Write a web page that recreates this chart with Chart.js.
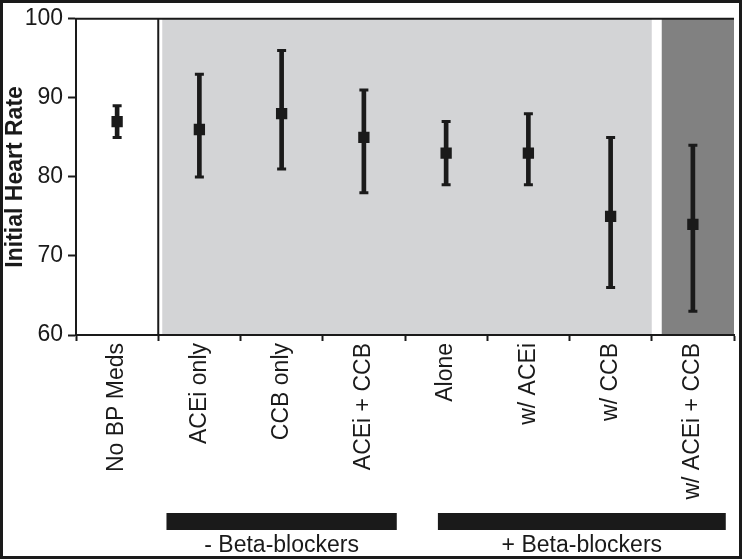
<!DOCTYPE html>
<html>
<head>
<meta charset="utf-8">
<script src="https://cdn.jsdelivr.net/npm/chart.js@4"></script>
<style>
  html, body { margin: 0; padding: 0; background: #fff; }
  #wrap { width: 742px; height: 559px; }
</style>
</head>
<body>
<div id="wrap"><canvas id="rateChart" width="742" height="559"></canvas></div>
<script>
// values
var categories = ['No BP Meds', 'ACEi only', 'CCB only', 'ACEi + CCB', 'Alone', 'w/ ACEi', 'w/ CCB', 'w/ ACEi + CCB'];
var meanRate = [87, 86, 88, 85, 83, 83, 75, 74];
var lowRate = [85, 80, 81, 78, 79, 79, 66, 63];
var highRate = [89, 93, 96, 91, 87, 88, 85, 84];
var yTicks = [60, 70, 80, 90, 100];
var groupLabels = ['- Beta-blockers', '+ Beta-blockers'];

var ink = '#1a1a1a';
var fontFamily = '"Liberation Sans", Arial, Helvetica, sans-serif';

var whiskers = [];
for (var i = 0; i < categories.length; i++) {
    whiskers.push([lowRate[i], highRate[i]]);
}

// shaded panels, divider, top line, group bars and frame
var decorPlugin = {
    id: 'decor',
    beforeDraw: function(chart) {
        var ctx = chart.ctx;
        var x = chart.scales.x;
        var area = chart.chartArea;
        var b1 = x.getPixelForValue(0.5);
        var b7 = x.getPixelForValue(6.5);
        ctx.save();
        ctx.fillStyle = '#fff';
        ctx.fillRect(0, 0, chart.width, chart.height);
        ctx.fillStyle = '#d3d4d6';
        ctx.fillRect(b1 + 4, area.top, b7 - (b1 + 4), area.bottom - area.top);
        ctx.fillStyle = '#818181';
        ctx.fillRect(b7 + 10, area.top, area.right - (b7 + 10), area.bottom - area.top);
        ctx.restore();
    },
    afterDraw: function(chart, args, opts) {
        var ctx = chart.ctx;
        var x = chart.scales.x;
        var area = chart.chartArea;
        var b1 = x.getPixelForValue(0.5);
        ctx.save();
        ctx.strokeStyle = ink;
        ctx.lineWidth = 2;
        ctx.beginPath();
        ctx.moveTo(b1, area.top);
        ctx.lineTo(b1, area.bottom);
        ctx.moveTo(area.left - 1, area.top);
        ctx.lineTo(area.right, area.top);
        ctx.stroke();

        ctx.fillStyle = ink;
        ctx.font = '23px ' + fontFamily;
        ctx.textAlign = 'center';
        ctx.textBaseline = 'alphabetic';
        for (var g = 0; g < groupLabels.length; g++) {
            var left = x.getPixelForValue(opts.starts[g]);
            var right = x.getPixelForValue(opts.ends[g]);
            ctx.fillRect(left, 513, right - left, 17);
            ctx.fillText(groupLabels[g], (left + right) / 2, 552);
        }

        ctx.lineWidth = 3;
        ctx.strokeRect(1.5, 1.5, chart.width - 3, chart.height - 3);
        ctx.restore();
    }
};

var chart = new Chart(document.getElementById('rateChart'), {
    type: 'bar',
    data: {
        labels: categories,
        datasets: [
            {
                type: 'line',
                label: 'Mean',
                data: meanRate,
                showLine: false,
                pointStyle: 'rect',
                pointRadius: 8,
                pointBackgroundColor: ink,
                pointBorderWidth: 0
            },
            {
                type: 'line',
                label: 'High',
                data: highRate,
                showLine: false,
                pointStyle: 'line',
                pointRadius: 4.5,
                pointBorderColor: ink,
                pointBorderWidth: 3
            },
            {
                type: 'line',
                label: 'Low',
                data: lowRate,
                showLine: false,
                pointStyle: 'line',
                pointRadius: 4.5,
                pointBorderColor: ink,
                pointBorderWidth: 3
            },
            {
                label: 'Range',
                data: whiskers,
                backgroundColor: ink,
                barThickness: 4,
                borderWidth: 0
            }
        ]
    },
    options: {
        responsive: false,
        animation: false,
        layout: { padding: { left: 2, right: 2, top: 15, bottom: 0 } },
        plugins: {
            legend: { display: false },
            tooltip: { enabled: false },
            decor: { starts: [0.6, 3.9], ends: [3.4, 7.4] }
        },
        scales: {
            x: {
                offset: true,
                afterFit: function(s) { s.height = 224; },
                grid: {
                    offset: true,
                    drawOnChartArea: false,
                    tickLength: 6,
                    tickWidth: 2,
                    tickColor: ink
                },
                border: { display: true, color: ink, width: 2 },
                ticks: {
                    autoSkip: false,
                    minRotation: 90,
                    maxRotation: 90,
                    padding: 2,
                    color: ink,
                    font: { family: fontFamily, size: 23 }
                }
            },
            y: {
                min: 60,
                max: 100,
                afterFit: function(s) { s.width = 74; },
                afterBuildTicks: function(s) {
                    s.ticks = yTicks.map(function(v) { return { value: v }; });
                },
                grid: {
                    drawOnChartArea: false,
                    tickLength: 8,
                    tickWidth: 2,
                    tickColor: ink
                },
                border: { display: true, color: ink, width: 2 },
                ticks: {
                    padding: 5,
                    color: ink,
                    font: { family: fontFamily, size: 23 }
                },
                title: {
                    display: true,
                    text: 'Initial Heart Rate',
                    color: ink,
                    padding: { top: 0, bottom: 0 },
                    font: { family: fontFamily, size: 23, weight: 'bold' }
                }
            }
        }
    },
    plugins: [decorPlugin]
});
</script>
</body>
</html>
